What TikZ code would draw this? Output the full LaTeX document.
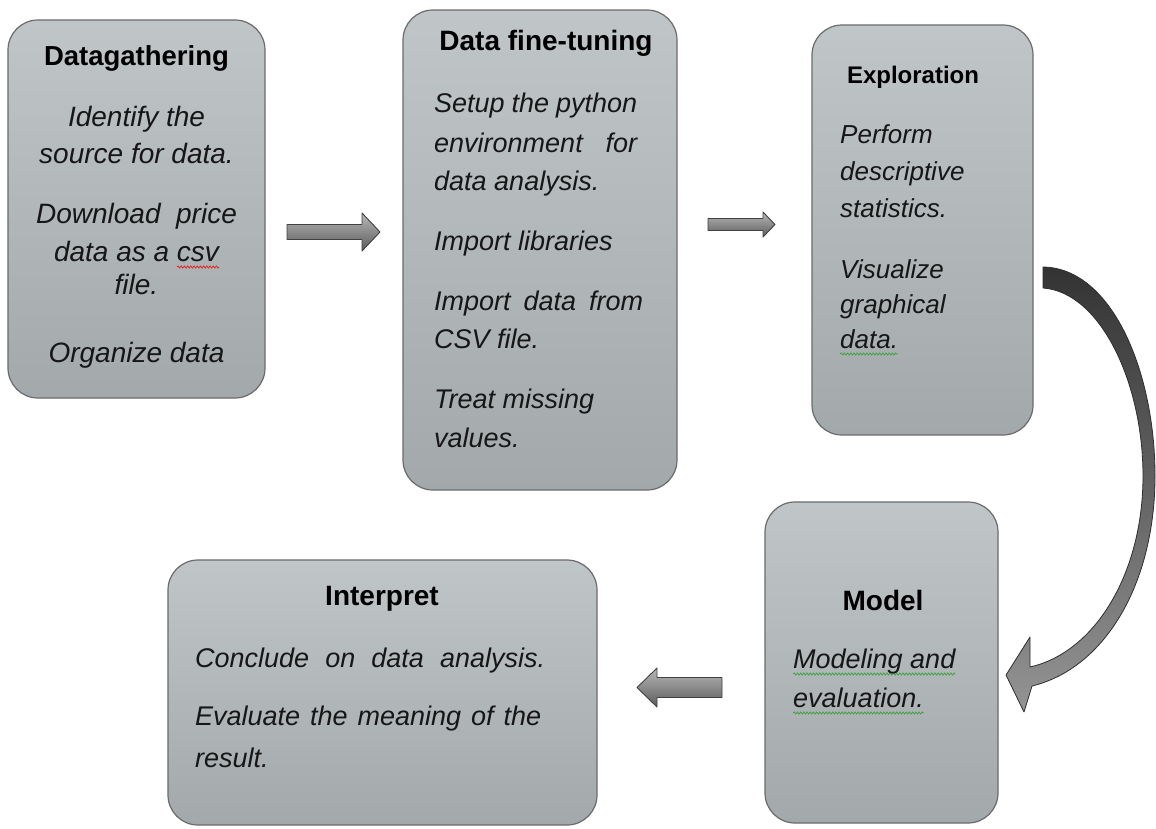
\documentclass[tikz,border=0pt]{standalone}
\usepackage{fontspec}
\setmainfont{Liberation Sans}
\usetikzlibrary{decorations.pathmorphing}

\definecolor{boxtop}{RGB}{192,197,200}
\definecolor{boxbot}{RGB}{163,168,171}
\definecolor{txtgray}{RGB}{22,22,22}
\definecolor{spellred}{RGB}{225,30,30}
\definecolor{grammargreen}{RGB}{60,160,60}

% word with a wavy proofing underline
\newsavebox\wavybox
\newlength\wavylen
\newcommand\wavy[2]{%
  \sbox\wavybox{#2}\setlength\wavylen{\wd\wavybox}%
  \rlap{\tikz[baseline=0pt]{\useasboundingbox (0pt,0pt);
    \draw[#1, line width=0.7pt, decorate,
      decoration={snake, amplitude=1.1pt, segment length=3.2pt}]
      (0pt,-6pt) -- (\wavylen,-6pt);}}%
  \usebox\wavybox}

\tikzset{
  stage/.style={draw=black!58, line width=1.2pt, rounded corners=30pt,
    top color=boxtop, bottom color=boxbot, inner sep=0pt},
  ttl/.style={anchor=base, inner sep=0pt, text=black,
    font=\bfseries\fontsize{28}{28}\selectfont},
  ln/.style={anchor=base, inner sep=0pt, text=txtgray,
    font=\itshape\fontsize{27}{27}\selectfont},
  lnl/.style={ln, anchor=base west},
  big/.style={font=\itshape\fontsize{28}{28}\selectfont},
  small/.style={font=\itshape\fontsize{26}{26}\selectfont},
  blockarrow/.style={draw=black!75, line width=0.9pt, line join=round,
    top color=black!28, bottom color=black!64},
  curvearrow/.style={draw=black!82, line width=0.8pt, line join=round,
    top color=black!80, middle color=black!76, bottom color=black!42},
}

\begin{document}
\begin{tikzpicture}[x=1pt, y=-1pt]
\fill[white] (0,0) rectangle (1156,828);
\useasboundingbox (0,0) rectangle (1156,828);

% ---- stage boxes ----
\node[stage, minimum width=257pt, minimum height=378pt] (gather) at (136.5,209) {};
\node[stage, minimum width=274pt, minimum height=480pt] (tune)   at (540,250) {};
\node[stage, minimum width=221pt, minimum height=410pt] (explore) at (922.5,230) {};
\node[stage, minimum width=233pt, minimum height=321pt] (model)  at (881.5,662.5) {};
\node[stage, minimum width=429pt, minimum height=265pt] (interp) at (382.5,692.5) {};

% ---- Datagathering ----
\node[ttl, font=\bfseries\fontsize{27.5}{28}\selectfont] (gatherT) at (136.5,65) {Datagathering};
\node[ln, big] (g1) at (136.5,126) {Identify the};
\node[ln, big] (g2) at (136.5,163) {source\ for data.};
\node[ln, big] (g3) at (136.5,223) {Download\ \ price};
\node[ln, big] (g4) at (136.5,261) {data as a \wavy{spellred}{csv}};
\node[ln, big] (g5) at (136.5,294) {file.};
\node[ln, big] (g6) at (136.5,362) {Organize data};

% ---- Data fine-tuning ----
\node[ttl] (tuneT) at (546,50) {Data fine-tuning};
\node[lnl] (t1) at (434,112) {\makebox[203pt][s]{Setup the python}};
\node[lnl] (t2) at (434,152) {\makebox[203pt][s]{environment for}};
\node[lnl] (t3) at (434,190) {data analysis.};
\node[lnl] (t4) at (434,250) {Import libraries};
\node[lnl] (t5) at (434,310) {\makebox[209pt][s]{Import data from}};
\node[lnl] (t6) at (434,348) {CSV file.};
\node[lnl] (t7) at (434,408) {Treat missing};
\node[lnl] (t8) at (434,447) {values.};

% ---- Exploration ----
\node[ttl, font=\bfseries\fontsize{24}{24}\selectfont] (exploreT) at (913,83) {Exploration};
\node[lnl, small] (e1) at (840,143) {Perform};
\node[lnl, small] (e2) at (840,180) {descriptive};
\node[lnl, small] (e3) at (840,217) {statistics.};
\node[lnl, small] (e4) at (840,278) {Visualize};
\node[lnl, small] (e5) at (840,313) {graphical};
\node[lnl, small] (e6) at (840,348) {\wavy{grammargreen}{data.}};

% ---- Model ----
\node[ttl] (modelT) at (883,610) {Model};
\node[lnl] (m1) at (793,668) {\wavy{grammargreen}{Modeling and}};
\node[lnl] (m2) at (793,707) {\wavy{grammargreen}{evaluation.}};

% ---- Interpret ----
\node[ttl] (interpT) at (382,605) {Interpret};
\node[lnl] (i1) at (195,667) {\makebox[350pt][s]{Conclude on data analysis.}};
\node[lnl] (i2) at (195,725) {\makebox[346pt][s]{Evaluate the meaning of the}};
\node[lnl] (i3) at (195,767) {result.};

% ---- block arrows between stages ----
\path[blockarrow] (287,224.5) -- (362,224.5) -- (362,213) -- (380,232)
  -- (362,251) -- (362,239.5) -- (287,239.5) -- cycle;
\path[blockarrow] (708,218.5) -- (763,218.5) -- (763,212) -- (775,224.5)
  -- (763,237) -- (763,230.5) -- (708,230.5) -- cycle;
\path[blockarrow] (722,677.5) -- (657,677.5) -- (657,668) -- (637,687.5)
  -- (657,707) -- (657,697.5) -- (722,697.5) -- cycle;

% ---- curved arrow from Exploration down to Model ----
\path[curvearrow] (1043,267)
  .. controls (1112,268) and (1155,372) .. (1155,476)
  .. controls (1155,582) and (1106,668) .. (1032,686)
  -- (1024,712) -- (1006,675) -- (1030,637) -- (1030,667)
  .. controls (1096,652) and (1143,572) .. (1143,476)
  .. controls (1143,382) and (1100,292) .. (1043,288) -- cycle;
\end{tikzpicture}
\end{document}
